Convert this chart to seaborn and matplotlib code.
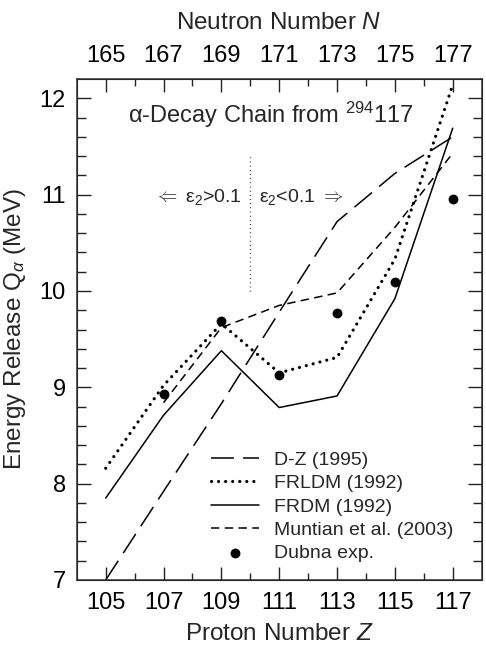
import matplotlib
matplotlib.use("Agg")
import matplotlib.pyplot as plt
import numpy as np
import seaborn as sns

# proton numbers along the 294-117 alpha-decay chain
z_all = [105, 107, 109, 111, 113, 115, 117]
z_mun = [107, 109, 111, 113, 115, 117]
z_exp = [107, 109, 111, 113, 115, 117]

# Q-alpha values in MeV
q_dz = [7.00, 7.92, 8.83, 9.78, 10.72, 11.22, 11.60]
q_frldm = [8.16, 9.02, 9.66, 9.15, 9.31, 10.33, 12.14]
q_frdm = [7.85, 8.71, 9.38, 8.79, 8.91, 9.92, 11.69]
q_muntian = [8.84, 9.62, 9.85, 9.98, 10.66, 11.43]
q_dubna = [8.93, 9.69, 9.13, 9.77, 10.09, 10.96]

neutron_labels = ["165", "167", "169", "171", "173", "175", "177"]


def setup_style():
    sns.set_style("white")
    plt.rcParams["font.family"] = ["Liberation Sans", "DejaVu Sans"]
    plt.rcParams["mathtext.fontset"] = "custom"
    plt.rcParams["mathtext.rm"] = "Liberation Sans"
    plt.rcParams["mathtext.it"] = "Liberation Sans:italic"
    plt.rcParams["mathtext.bf"] = "Liberation Sans:bold"
    plt.rcParams["xtick.major.pad"] = 9
    plt.rcParams["ytick.major.pad"] = 8
    plt.rcParams["xtick.labelsize"] = 17
    plt.rcParams["ytick.labelsize"] = 17
    plt.rcParams["xtick.labelcolor"] = "black"
    plt.rcParams["ytick.labelcolor"] = "black"
    plt.rcParams["xtick.major.size"] = 0
    plt.rcParams["ytick.major.size"] = 0


def draw_ticks(ax):
    # the default tick marks vanished with the large pad, so draw them here
    xt = ax.get_xaxis_transform()
    yt = ax.get_yaxis_transform()
    kw = dict(colors="#222222", lw=1.0, clip_on=False, zorder=6)
    z_minor = np.arange(105, 118, 1)
    z_len = np.where(z_minor % 2 == 1, 0.026, 0.014)
    for z, l in zip(z_minor, z_len):
        ax.vlines(z, 0, l, transform=xt, **kw)
        ax.vlines(z, 1 - l, 1, transform=xt, **kw)
    q_minor = np.round(np.arange(7.2, 12.2, 0.2), 1)
    for q in q_minor:
        l = 0.034 if abs(q - round(q)) < 1e-6 else 0.022
        ax.hlines(q, 0, l, transform=yt, **kw)
        ax.hlines(q, 1 - l, 1, transform=yt, **kw)


def plot_chain():
    fig = plt.figure(figsize=(4.86, 6.48), dpi=100)
    ax = fig.add_axes([0.158, 0.105, 0.833, 0.773])

    sns.lineplot(x=z_all, y=q_dz, ax=ax, color="black", lw=1.1,
                 linestyle=(0, (15, 6)), label="D-Z (1995)")
    sns.lineplot(x=z_all, y=q_frldm, ax=ax, color="black", lw=2.3,
                 linestyle=(0, (0.01, 2.2)), dash_capstyle="round",
                 label="FRLDM (1992)")
    sns.lineplot(x=z_all, y=q_frdm, ax=ax, color="black", lw=1.1,
                 label="FRDM (1992)")
    sns.lineplot(x=z_mun, y=q_muntian, ax=ax, color="black", lw=1.1,
                 linestyle=(0, (5.5, 3.5)), label="Muntian et al. (2003)")
    sns.scatterplot(x=z_exp, y=q_dubna, ax=ax, color="black", s=50,
                    edgecolor="black", linewidth=0, zorder=5,
                    label="Dubna exp.")

    ax.set_xlim(104, 118)
    ax.set_ylim(7, 12.2)
    ax.set_xticks(range(105, 118, 2))
    ax.set_yticks(range(7, 13))
    for sp in ax.spines.values():
        sp.set_linewidth(1.1)
        sp.set_color("#333333")

    top = ax.twiny()
    top.set_xlim(ax.get_xlim())
    top.set_xticks(range(105, 118, 2))
    top.set_xticklabels(neutron_labels)
    top.set_xlabel("Neutron Number $N$", fontsize=17.5, labelpad=11)

    ax.set_xlabel("Proton Number $Z$", fontsize=17.5, labelpad=6)
    ax.set_ylabel(r"Energy Release Q$_{\alpha}$ (MeV)", fontsize=17.5, labelpad=8)

    draw_ticks(ax)

    ax.text(110.7, 11.83, r"$\mathrm{\alpha}$-Decay Chain from $^{294}$117",
            ha="center", va="center", fontsize=17)
    ax.vlines(110, 10.0, 11.4, colors="black", linestyles=(0, (0.5, 2.5)), lw=1.0)
    ax.text(109.7, 10.98, r"$\Leftarrow$ $\mathrm{\epsilon}_2$>0.1",
            ha="right", va="center", fontsize=14)
    ax.text(110.3, 10.98, r"$\mathrm{\epsilon}_2$<0.1 $\Rightarrow$",
            ha="left", va="center", fontsize=14)

    ax.legend(loc="lower left", bbox_to_anchor=(0.331, 0.035), frameon=False,
              fontsize=14, handlelength=2.5, handletextpad=0.75,
              labelspacing=0.3, borderpad=0, borderaxespad=0)

    plt.savefig("out.png", dpi=100)
    plt.close()


def main():
    setup_style()
    plot_chain()


if __name__ == "__main__":
    main()
